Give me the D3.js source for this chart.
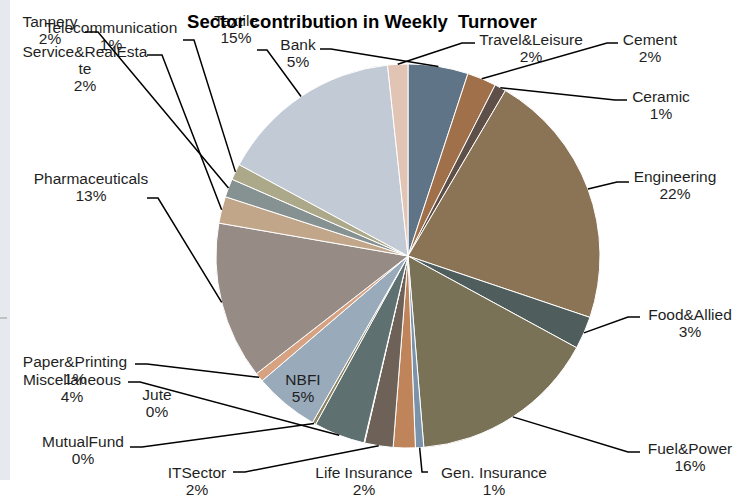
<!DOCTYPE html>
<html>
<head>
<meta charset="utf-8">
<script src="https://cdn.jsdelivr.net/npm/d3@7"></script>
<style>
  body { margin: 0; background: #fff; }
  text { font-family: "Liberation Sans", Arial, sans-serif; }
</style>
</head>
<body>
<div id="chart"></div>
<script>
// data
var sectors = ["Bank", "Cement", "Ceramic", "Engineering", "Food&Allied", "Fuel&Power",
    "Gen. Insurance", "Life Insurance", "ITSector", "Jute", "Miscellaneous", "MutualFund",
    "NBFI", "Paper&Printing", "Pharmaceuticals", "Service&RealEstate", "Tannery",
    "Telecommunication", "Textile", "Travel&Leisure"];
var turnoverShare = [5.05, 2.45, 0.97, 21.7, 2.75, 15.75, 0.7, 1.85, 2.4, 0.05, 4.3, 0.3,
    5.45, 0.75, 13.25, 2.25, 1.55, 1.35, 15.4, 1.7];
var title = "Sector contribution in Weekly  Turnover";

// styles
var colors = ["#5f7487", "#a0704a", "#5e5048", "#8b7355", "#4f5d5d", "#7a7256",
    "#7a93aa", "#c0845a", "#6e6258", "#c8b49a", "#5f7070", "#8c8462",
    "#99aabb", "#d6a282", "#968b85", "#c2a68a", "#869191", "#aca88a", "#c2cad5", "#e2c4b5"];

// label layout: x centre, first baseline, leader line start (two points), optional wrap
var labelPos = {
    "Bank": { x: 298, y: 50, lead: [[320, 49], [331, 49]] },
    "Cement": { x: 650, y: 45, lead: [[618, 43], [607, 43]] },
    "Ceramic": { x: 661, y: 102, lead: [[627, 100], [615, 100]] },
    "Engineering": { x: 675, y: 182, lead: [[629, 182], [617, 182]] },
    "Food&Allied": { x: 690, y: 320, lead: [[640, 317], [628, 317]] },
    "Fuel&Power": { x: 690, y: 454, lead: [[640, 452], [628, 452]] },
    "Gen. Insurance": { x: 494, y: 478, lead: [[428, 472], [422, 472]] },
    "Life Insurance": { x: 364, y: 478 },
    "ITSector": { x: 197, y: 478, lead: [[233, 472], [245, 472]] },
    "Jute": { x: 157, y: 400 },
    "Miscellaneous": { x: 72, y: 385, lead: [[128, 382], [140, 382]] },
    "MutualFund": { x: 83, y: 447, lead: [[130, 447], [142, 447]] },
    "NBFI": { x: 303, y: 385 },
    "Paper&Printing": { x: 75, y: 367, lead: [[135, 364], [147, 364]] },
    "Pharmaceuticals": { x: 91, y: 184, lead: [[147, 198], [158, 198]] },
    "Service&RealEstate": { x: 85, y: 57, wrap: 16, lead: [[147, 55], [162, 55]] },
    "Tannery": { x: 50, y: 27, lead: [[85, 32], [98, 32]] },
    "Telecommunication": { x: 111, y: 33, lead: [[183, 40], [194, 40]] },
    "Textile": { x: 236, y: 26, lead: [[257, 50], [267, 50]] },
    "Travel&Leisure": { x: 531, y: 45, lead: [[475, 43], [462, 43]] }
};

var W = 751, H = 498,
    cx = 408, cy = 256, radius = 192,
    lineGap = 17;

var svg = d3.select("#chart")
    .append("svg")
    .attr("width", W)
    .attr("height", H);

// left grey strip
svg.append("rect").attr("x", 0).attr("y", 0).attr("width", 10).attr("height", 480).attr("fill", "#e6eaee");
svg.append("line").attr("x1", 0).attr("x2", 7).attr("y1", 318).attr("y2", 318).attr("stroke", "#999");

var total = d3.sum(turnoverShare);
var data = sectors.map(function(s, i) { return { name: s, value: turnoverShare[i], color: colors[i] }; });

var pie = d3.pie().sort(null).value(function(d) { return d.value; });
var arc = d3.arc().innerRadius(0).outerRadius(radius);
var edge = d3.arc().innerRadius(radius).outerRadius(radius);
var arcs = pie(data);

var g = svg.append("g").attr("transform", "translate(" + cx + "," + cy + ")");

g.selectAll("path.slice")
    .data(arcs)
    .enter().append("path")
    .attr("class", "slice")
    .attr("d", arc)
    .attr("fill", function(d) { return d.data.color; })
    .attr("stroke", "#fff")
    .attr("stroke-width", 1);

// labels
var labels = svg.append("g");
arcs.forEach(function(d) {
    var p = labelPos[d.data.name];
    var pct = Math.round(d.data.value / total * 100) + "%";
    var lines = p.wrap ? [d.data.name.slice(0, p.wrap), d.data.name.slice(p.wrap)] : [d.data.name];
    lines.push(pct);
    var t = labels.append("text")
        .attr("text-anchor", "middle")
        .attr("font-size", "15.5px")
        .attr("fill", "#1f1f1f");
    lines.forEach(function(l, i) {
        t.append("tspan").attr("x", p.x).attr("y", p.y + i * lineGap).text(l);
    });
});

// leader lines
var leaders = svg.append("g");
arcs.forEach(function(d) {
    var p = labelPos[d.data.name];
    if (!p.lead) return;
    var c = edge.centroid(d);
    var pts = p.lead.concat([[cx + c[0], cy + c[1]]]);
    leaders.append("path")
        .attr("d", d3.line()(pts))
        .attr("fill", "none")
        .attr("stroke", "#000")
        .attr("stroke-width", 1.5);
});

// title
svg.append("text")
    .attr("x", 362)
    .attr("y", 28)
    .attr("text-anchor", "middle")
    .attr("font-size", "18.5px")
    .attr("font-weight", "bold")
    .style("white-space", "pre")
    .attr("fill", "#000")
    .text(title);
</script>
</body>
</html>
